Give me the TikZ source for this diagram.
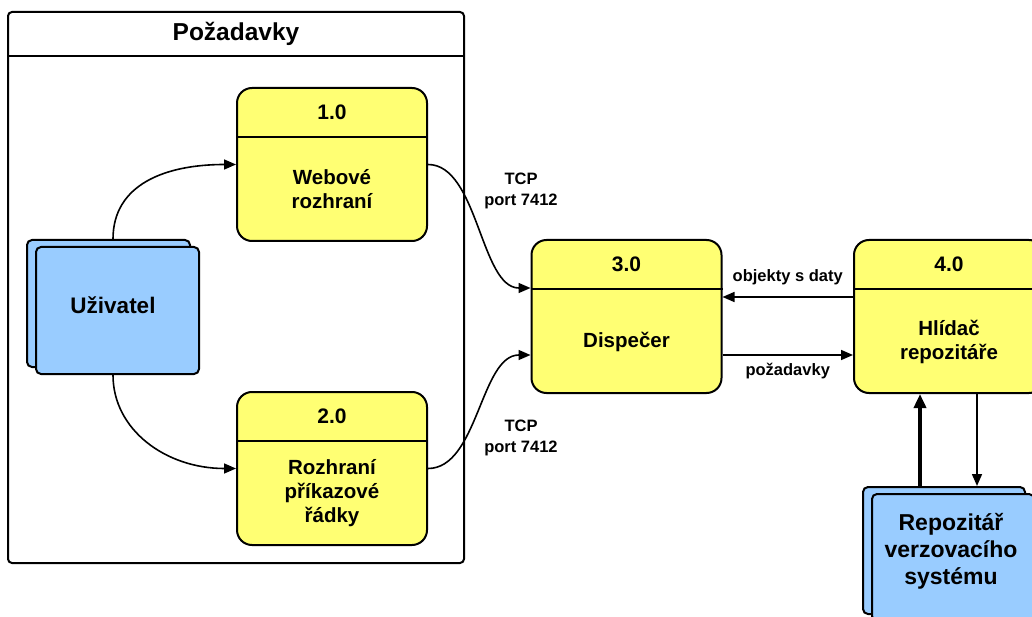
\documentclass[tikz,border=0pt]{standalone}
\usepackage{fontspec}
\setmainfont{Liberation Sans}
\usepackage{xcolor}
\usepackage{tikz}
\usetikzlibrary{arrows.meta}

\definecolor{procyellow}{RGB}{255,255,115}
\definecolor{entityblue}{RGB}{153,204,255}

\begin{document}
\begin{tikzpicture}[x=1pt,y=-1pt]

\edef\procwidth{190pt}
\edef\procheight{153pt}
\tikzstyle{process}=[draw,line width=2pt,fill=procyellow,rounded corners=15pt,minimum width=\procwidth,minimum height=\procheight]
\tikzstyle{entity}=[draw,line width=2pt,fill=entityblue,rounded corners=5pt,minimum width=163pt,minimum height=127pt]
\tikzstyle{proctitle}=[font=\fontsize{21}{24}\selectfont\bfseries]
\tikzstyle{proctext}=[font=\fontsize{20.5}{24}\selectfont\bfseries,align=center]
\tikzstyle{flowlabel}=[font=\fontsize{16.5}{21}\selectfont\bfseries,align=center]
\tikzstyle{flow}=[line width=1.6pt,-{Triangle[length=12pt,width=10pt]}]

\clip (0,0) rectangle (1032,617);

%% Group of request sources
\node [draw,line width=2pt,rounded corners=4pt,minimum width=456pt,minimum height=551pt] (req) at (236,287.5) {};
\draw [line width=1.6pt] ([yshift=-45pt]req.north west) -- ([yshift=-45pt]req.north east);
\node [font=\fontsize{24.5}{28}\selectfont\bfseries] (reqtitle) at (236,34) {Požadavky};

%% User (external entity)
\node [entity] (userback) at (108.5,303.5) {};
\node [entity] (userfront) at (117.5,310.5) {};
\node [font=\fontsize{22.5}{26}\selectfont\bfseries] (user) at (113,305) {Uživatel};

%% Processes
\node [process] (p1) at (332,164.5) {};
\draw [line width=2pt] ([yshift=-50pt]p1.north west) -- ([yshift=-50pt]p1.north east);
\node [proctitle] (p1num) at ([yshift=-25pt]p1.north) {1.0};
\node [proctext] (p1name) at ([yshift=-25pt]p1.center) {Webové\\rozhraní};

\node [process] (p2) at (332,468.5) {};
\draw [line width=2pt] ([yshift=-50pt]p2.north west) -- ([yshift=-50pt]p2.north east);
\node [proctitle] (p2num) at ([yshift=-25pt]p2.north) {2.0};
\node [proctext] (p2name) at ([yshift=-25pt]p2.center) {Rozhraní\\příkazové\\řádky};

\node [process] (p3) at (626.5,316.5) {};
\draw [line width=2pt] ([yshift=-50pt]p3.north west) -- ([yshift=-50pt]p3.north east);
\node [proctitle] (p3num) at ([yshift=-25pt]p3.north) {3.0};
\node [proctext] (p3name) at ([yshift=-25pt]p3.center) {Dispečer};

\node [process] (p4) at (949,316.5) {};
\draw [line width=2pt] ([yshift=-50pt]p4.north west) -- ([yshift=-50pt]p4.north east);
\node [proctitle] (p4num) at ([yshift=-25pt]p4.north) {4.0};
\node [proctext] (p4name) at ([yshift=-25pt]p4.center) {Hlídač\\repozitáře};

%% Repository (external entity)
\node [entity,minimum width=162pt] (repoback) at (944,550.5) {};
\node [entity,minimum width=162pt] (repofront) at (953,557.5) {};
\node [font=\fontsize{23}{27}\selectfont\bfseries,align=center] (repo) at (951,551) {Repozitář\\verzovacího\\systému};

%% Flows
\draw [flow] (userback.north -| user) .. controls +(0,-55) and +(-70,0) .. (p1.west);
\draw [flow] (userfront.south -| user) .. controls +(0,55) and +(-70,0) .. (p2.west);

\draw [flow] (p1.east) .. controls +(50,0) and +(-50,0) .. ([yshift=28.5pt]p3.west);
\draw [flow] (p2.east) .. controls +(50,0) and +(-50,0) .. ([yshift=-38.5pt]p3.west);
\node [flowlabel] (tcpweb) at (521,191) {TCP\\port 7412};
\node [flowlabel] (tcpcli) at (521,438) {TCP\\port 7412};

\draw [flow] ([yshift=19.5pt]p4.west) -- node [flowlabel,yshift=20pt] (datalabel) {objekty s daty} ([yshift=19.5pt]p3.east);
\draw [flow] ([yshift=-38.5pt]p3.east) -- node [flowlabel,yshift=-16pt] (reqlabel) {požadavky} ([yshift=-38.5pt]p4.west);

\coordinate (repoin) at ([xshift=-29pt]p4.south);
\coordinate (repoout) at ([xshift=28pt]p4.south);
\draw [line width=3.5pt,-{Triangle[length=14pt,width=12pt]}] (repoin |- repoback.north) -- (repoin);
\draw [flow] (repoout) -- (repoout |- repoback.north);

\end{tikzpicture}
\end{document}
